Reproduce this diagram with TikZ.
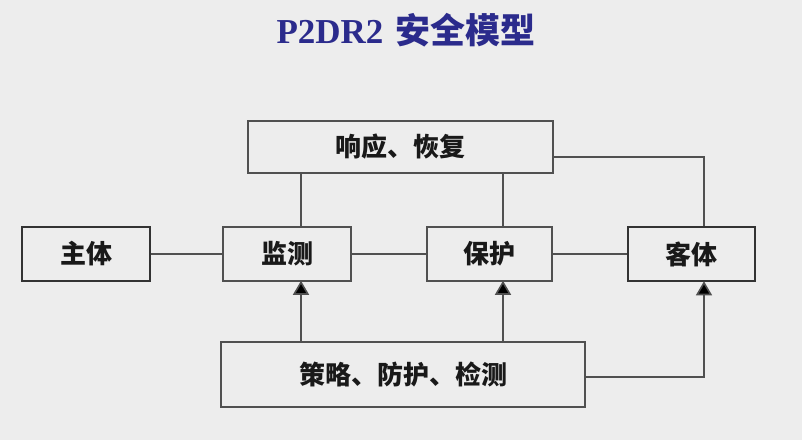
\documentclass[tikz,border=0pt]{standalone}
\usepackage{fontspec}
\setmainfont{Liberation Serif}
\newfontfamily\cjk{Noto Sans CJK SC}
\usetikzlibrary{arrows.meta}
\definecolor{bgc}{HTML}{EDEDED}
\definecolor{linec}{HTML}{505050}
\definecolor{titlec}{HTML}{2B2B8C}
\tikzset{
  box/.style={draw=linec, line width=1.6pt, minimum height=54pt, inner sep=0pt,
    font=\cjk\bfseries\fontsize{26}{28}\selectfont, text=black!90},
  boldbox/.style={box, line width=2.6pt, draw=black!80},
  conn/.style={draw=linec, line width=1.6pt},
  arr/.style={conn, -{Triangle[width=16pt,length=14pt,fill=black]}, shorten >=-1pt}
}
\begin{document}
\begin{tikzpicture}[x=1pt,y=-1pt]
\fill[bgc] (0,0) rectangle (802,440);
\useasboundingbox (0,0) rectangle (802,440);
\node[text=titlec, font=\fontsize{35}{37}\selectfont\bfseries] (title) at (406,30) {P2DR2\hspace{12pt}{\cjk 安全模型}};
\node[boldbox, minimum width=128pt] (zt) at (86,254) {主体};
\node[box, minimum width=128pt] (jc) at (287,254) {监测};
\node[box, minimum width=125pt] (bh) at (489.5,254) {保护};
\node[boldbox, minimum width=127pt] (kt) at (691.5,254) {客体};
\node[box, minimum width=305pt, minimum height=52pt] (xy) at (400.5,147) {响应、恢复};
\node[box, minimum width=364pt, minimum height=65pt] (cl) at (403,374.5) {策略、防护、检测};
\coordinate (xyr) at ([yshift=-10pt]xy.east);
\coordinate (clr) at ([yshift=-2.5pt]cl.east);
\coordinate (jcn) at ([xshift=14pt]jc.north);
\coordinate (jcs) at ([xshift=14pt]jc.south);
\coordinate (bhn) at ([xshift=13.5pt]bh.north);
\coordinate (bhs) at ([xshift=13.5pt]bh.south);
\coordinate (ktn) at ([xshift=12.5pt]kt.north);
\coordinate (kts) at ([xshift=12.5pt]kt.south);
\draw[conn] (zt.east) -- (jc.west);
\draw[conn] (jc.east) -- (bh.west);
\draw[conn] (bh.east) -- (kt.west);
\draw[conn] (xy.south -| jcn) -- (jcn);
\draw[conn] (xy.south -| bhn) -- (bhn);
\draw[conn] (xyr) -| (ktn);
\draw[arr] (cl.north -| jcs) -- (jcs);
\draw[arr] (cl.north -| bhs) -- (bhs);
\draw[arr] (clr) -| (kts);
\end{tikzpicture}
\end{document}
